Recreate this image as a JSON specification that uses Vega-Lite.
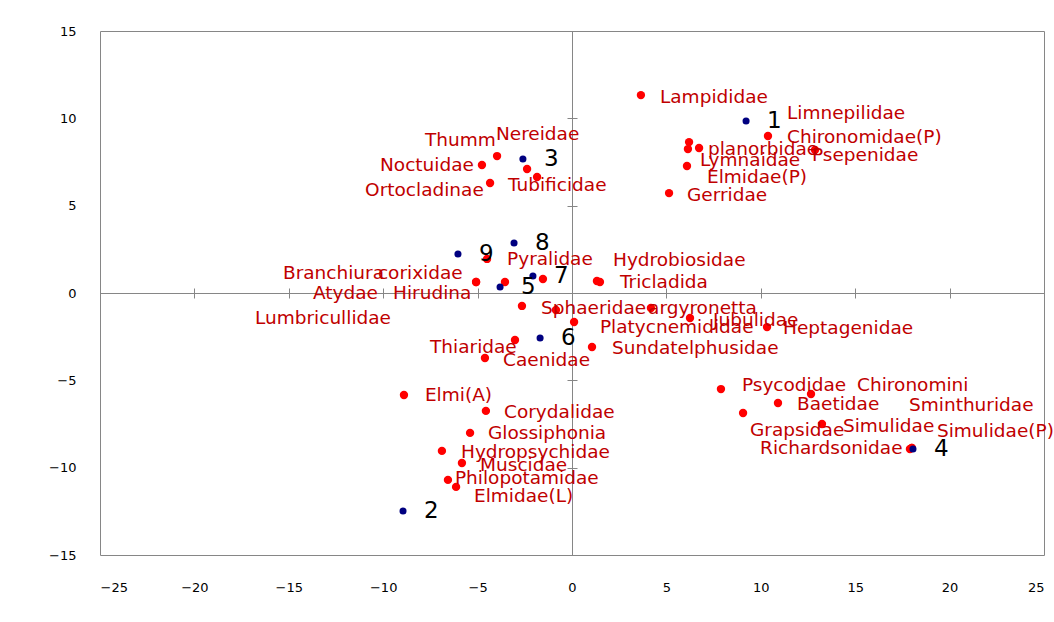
{
  "$schema": "https://vega.github.io/schema/vega-lite/v6.json",
  "width": 944,
  "height": 524,
  "autosize": {"type": "none"},
  "padding": {"left": 100, "top": 31, "right": 10, "bottom": 67},
  "background": "white",
  "config": {
    "view": {"stroke": "#868686", "strokeWidth": 1},
    "axis": {"grid": false, "labelFont": "DejaVu Sans", "labelFontSize": 13, "labelColor": "#000000", "title": null}
  },
  "data": {
    "values": [
      {"name": "Lampididae", "kind": "taxon", "x": 3.65, "y": 11.33, "lx": 4.66, "ly": 11.22},
      {"name": "Limnepilidae", "kind": "taxon", "x": 6.20, "y": 8.64, "lx": 11.39, "ly": 10.30},
      {"name": "Chironomidae(P)", "kind": "taxon", "x": 10.38, "y": 8.99, "lx": 11.39, "ly": 8.93},
      {"name": "planorbidae", "kind": "taxon", "x": 6.73, "y": 8.30, "lx": 7.20, "ly": 8.24},
      {"name": "Psepenidae", "kind": "taxon", "x": 12.87, "y": 8.19, "lx": 12.71, "ly": 7.90},
      {"name": "Lymnaidae", "kind": "taxon", "x": 6.14, "y": 8.24, "lx": 6.78, "ly": 7.61},
      {"name": "Elmidae(P)", "kind": "taxon", "x": 6.09, "y": 7.27, "lx": 7.15, "ly": 6.64},
      {"name": "Gerridae", "kind": "taxon", "x": 5.14, "y": 5.72, "lx": 6.09, "ly": 5.61},
      {"name": "Thumm", "kind": "taxon", "x": -3.97, "y": 7.84, "lx": -7.79, "ly": 8.76},
      {"name": "Nereidae", "kind": "taxon", "x": -2.38, "y": 7.10, "lx": -4.03, "ly": 9.10},
      {"name": "Noctuidae", "kind": "taxon", "x": -4.77, "y": 7.33, "lx": -10.17, "ly": 7.33},
      {"name": "Ortocladinae", "kind": "taxon", "x": -4.34, "y": 6.30, "lx": -10.96, "ly": 5.90},
      {"name": "Tubificidae", "kind": "taxon", "x": -1.85, "y": 6.64, "lx": -3.39, "ly": 6.18},
      {"name": "Pyralidae", "kind": "taxon", "x": -4.50, "y": 1.95, "lx": -3.44, "ly": 1.95},
      {"name": "Hydrobiosidae", "kind": "taxon", "x": 1.32, "y": 0.69, "lx": 2.17, "ly": 1.89},
      {"name": "Tricladida", "kind": "taxon", "x": 1.48, "y": 0.63, "lx": 2.54, "ly": 0.63},
      {"name": "Branchiura", "kind": "taxon", "x": -5.08, "y": 0.63, "lx": -15.31, "ly": 1.14},
      {"name": "corixidae", "kind": "taxon", "x": -5.08, "y": 0.63, "lx": -10.28, "ly": 1.14},
      {"name": "Atydae", "kind": "taxon", "x": -3.55, "y": 0.63, "lx": -13.72, "ly": 0.0},
      {"name": "Hirudina", "kind": "taxon", "x": -1.54, "y": 0.80, "lx": -9.48, "ly": 0.0},
      {"name": "Lumbricullidae", "kind": "taxon", "x": -2.65, "y": -0.74, "lx": -16.79, "ly": -1.43},
      {"name": "Sphaeridae", "kind": "taxon", "x": -0.85, "y": -0.97, "lx": -1.64, "ly": -0.86},
      {"name": "argyronetta", "kind": "taxon", "x": 4.18, "y": -0.86, "lx": 4.03, "ly": -0.86},
      {"name": "Jubulidae", "kind": "taxon", "x": 6.25, "y": -1.43, "lx": 7.47, "ly": -1.55},
      {"name": "Heptagenidae", "kind": "taxon", "x": 10.33, "y": -1.95, "lx": 11.18, "ly": -2.0},
      {"name": "Platycnemididae", "kind": "taxon", "x": 0.11, "y": -1.66, "lx": 1.48, "ly": -1.95},
      {"name": "Sundatelphusidae", "kind": "taxon", "x": 1.06, "y": -3.09, "lx": 2.12, "ly": -3.15},
      {"name": "Thiaridae", "kind": "taxon", "x": -3.02, "y": -2.69, "lx": -7.52, "ly": -3.09},
      {"name": "Caenidae", "kind": "taxon", "x": -4.61, "y": -3.72, "lx": -3.65, "ly": -3.84},
      {"name": "Elmi(A)", "kind": "taxon", "x": -8.90, "y": -5.84, "lx": -7.79, "ly": -5.84},
      {"name": "Corydalidae", "kind": "taxon", "x": -4.56, "y": -6.75, "lx": -3.60, "ly": -6.81},
      {"name": "Glossiphonia", "kind": "taxon", "x": -5.40, "y": -8.01, "lx": -4.45, "ly": -8.01},
      {"name": "Hydropsychidae", "kind": "taxon", "x": -6.89, "y": -9.04, "lx": -5.88, "ly": -9.10},
      {"name": "Muscidae", "kind": "taxon", "x": -5.83, "y": -9.73, "lx": -4.87, "ly": -9.85},
      {"name": "Philopotamidae", "kind": "taxon", "x": -6.57, "y": -10.70, "lx": -6.20, "ly": -10.59},
      {"name": "Elmidae(L)", "kind": "taxon", "x": -6.14, "y": -11.10, "lx": -5.19, "ly": -11.62},
      {"name": "Psycodidae", "kind": "taxon", "x": 7.89, "y": -5.50, "lx": 9.00, "ly": -5.27},
      {"name": "Chironomini", "kind": "taxon", "x": 12.66, "y": -5.78, "lx": 15.10, "ly": -5.27},
      {"name": "Baetidae", "kind": "taxon", "x": 10.91, "y": -6.30, "lx": 11.92, "ly": -6.35},
      {"name": "Sminthuridae", "kind": "taxon", "x": 18.0, "y": -8.87, "lx": 17.85, "ly": -6.41},
      {"name": "Grapsidae", "kind": "taxon", "x": 9.06, "y": -6.87, "lx": 9.43, "ly": -7.84},
      {"name": "Simulidae", "kind": "taxon", "x": 13.24, "y": -7.50, "lx": 14.35, "ly": -7.61},
      {"name": "Simulidae(P)", "kind": "taxon", "x": 18.0, "y": -8.87, "lx": 19.33, "ly": -7.90},
      {"name": "Richardsonidae", "kind": "taxon", "x": 17.90, "y": -8.93, "lx": 9.96, "ly": -8.87},
      {"name": "1", "kind": "site", "x": 9.22, "y": 9.85},
      {"name": "2", "kind": "site", "x": -8.95, "y": -12.48},
      {"name": "3", "kind": "site", "x": -2.60, "y": 7.67},
      {"name": "4", "kind": "site", "x": 18.06, "y": -8.93},
      {"name": "5", "kind": "site", "x": -3.81, "y": 0.34},
      {"name": "6", "kind": "site", "x": -1.69, "y": -2.58},
      {"name": "7", "kind": "site", "x": -2.07, "y": 0.97},
      {"name": "8", "kind": "site", "x": -3.07, "y": 2.86},
      {"name": "9", "kind": "site", "x": -6.04, "y": 2.23}
    ]
  },
  "layer": [
    {
      "transform": [{"filter": "datum.kind === 'taxon'"}],
      "mark": {"type": "circle", "color": "#ff0000", "opacity": 1, "size": 70},
      "encoding": {
        "x": {"field": "x", "type": "quantitative",
              "scale": {"domain": [-25, 25], "nice": false, "zero": false},
              "axis": {"orient": "bottom", "values": [-25, -20, -15, -10, -5, 0, 5, 10, 15, 20, 25], "domain": false, "ticks": false, "labelPadding": 26}},
        "y": {"field": "y", "type": "quantitative",
              "scale": {"domain": [-15, 15], "nice": false, "zero": false},
              "axis": {"orient": "left", "values": [-15, -10, -5, 0, 5, 10, 15], "domain": false, "ticks": false, "labelPadding": 24}}
      }
    },
    {
      "transform": [{"filter": "datum.kind === 'taxon'"}],
      "mark": {"type": "text", "align": "left", "baseline": "middle", "font": "DejaVu Sans", "fontSize": 18.5, "color": "#c00000"},
      "encoding": {
        "x": {"field": "lx", "type": "quantitative",
              "scale": {"domain": [-25, 25], "nice": false, "zero": false},
              "axis": {"orient": "bottom", "offset": -262, "values": [-25, -20, -15, -10, -5, 0, 5, 10, 15, 20, 25], "labels": false, "domain": true, "domainColor": "#868686", "ticks": true, "tickColor": "#868686", "tickSize": 5}},
        "y": {"field": "ly", "type": "quantitative",
              "scale": {"domain": [-15, 15], "nice": false, "zero": false},
              "axis": {"orient": "left", "offset": -472, "values": [-15, -10, -5, 0, 5, 10, 15], "labels": false, "domain": true, "domainColor": "#868686", "ticks": true, "tickColor": "#868686", "tickSize": 5}},
        "text": {"field": "name"}
      }
    },
    {
      "transform": [{"filter": "datum.kind === 'site'"}],
      "mark": {"type": "circle", "color": "#000080", "opacity": 1, "size": 50},
      "encoding": {
        "x": {"field": "x", "type": "quantitative",
              "scale": {"domain": [-25, 25], "nice": false, "zero": false},
              "axis": {"orient": "top", "offset": -262, "values": [-25, -20, -15, -10, -5, 0, 5, 10, 15, 20, 25], "labels": false, "domain": false, "ticks": true, "tickColor": "#868686", "tickSize": 5}},
        "y": {"field": "y", "type": "quantitative",
              "scale": {"domain": [-15, 15], "nice": false, "zero": false},
              "axis": {"orient": "right", "offset": -472, "values": [-15, -10, -5, 0, 5, 10, 15], "labels": false, "domain": false, "ticks": true, "tickColor": "#868686", "tickSize": 5}}
      }
    },
    {
      "transform": [{"filter": "datum.kind === 'site'"}],
      "mark": {"type": "text", "align": "left", "baseline": "middle", "dx": 21, "font": "DejaVu Sans", "fontSize": 23, "color": "#000000"},
      "encoding": {
        "x": {"field": "x", "type": "quantitative", "scale": {"domain": [-25, 25], "nice": false, "zero": false}, "axis": null},
        "y": {"field": "y", "type": "quantitative", "scale": {"domain": [-15, 15], "nice": false, "zero": false}, "axis": null},
        "text": {"field": "name"}
      }
    }
  ],
  "resolve": {"axis": {"x": "independent", "y": "independent"}}
}
